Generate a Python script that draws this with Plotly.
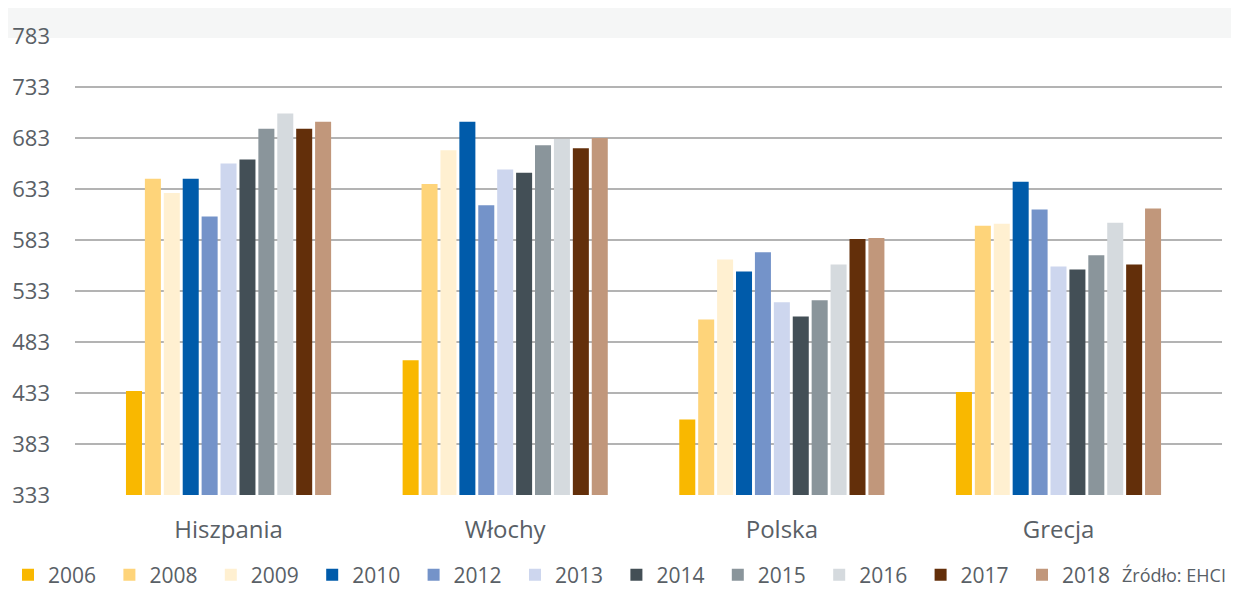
import plotly.graph_objects as go

categories = ["Hiszpania", "Włochy", "Polska", "Grecja"]
years = ["2006", "2008", "2009", "2010", "2012", "2013", "2014", "2015", "2016", "2017", "2018"]

v2006 = [435, 465, 407, 434]
v2008 = [643, 638, 505, 597]
v2009 = [629, 671, 564, 599]
v2010 = [643, 699, 552, 640]
v2012 = [606, 617, 571, 613]
v2013 = [658, 652, 522, 557]
v2014 = [662, 649, 508, 554]
v2015 = [692, 676, 524, 568]
v2016 = [707, 682, 559, 600]
v2017 = [692, 673, 584, 559]
v2018 = [699, 683, 585, 614]

series = [v2006, v2008, v2009, v2010, v2012, v2013, v2014, v2015, v2016, v2017, v2018]
colors = ["#F9B800", "#FED47A", "#FFF0D1", "#005BAA", "#7493C9", "#CDD6EE",
          "#434F56", "#8A959B", "#D5DADE", "#632F0A", "#C1977B"]

y_ticks = [333, 383, 433, 483, 533, 583, 633, 683, 733, 783]

FONT = "Open Sans"
TXT = "#596066"

fig = go.Figure()
for name, vals, col in zip(years, series, colors):
    fig.add_trace(go.Bar(name=name, x=categories, y=vals, marker=dict(color=col, line=dict(width=0))))

# page body has an 8px margin, so the figure is laid out 8px smaller
OFF = 8
W, H = 1239 - OFF, 589 - OFF
L, R, T, B = 75 - OFF, 17, 36 - OFF, 94
pw = W - L - R
ph = H - T - B

legend_y_px = 575 - OFF
note_y_px = 575 - OFF

fig.update_layout(
    width=W, height=H,
    margin=dict(l=L, r=R, t=T, b=B, pad=0, autoexpand=False),
    paper_bgcolor="white", plot_bgcolor="white",
    barmode="group", bargap=0.248, bargroupgap=0.153,
    font=dict(family=FONT, color=TXT, size=22),
    showlegend=True,
    legend=dict(
        orientation="h", xref="container", yref="container",
        x=0, xanchor="left", y=1 - legend_y_px / H, yanchor="middle",
        font=dict(family=FONT, size=21, color=TXT), itemwidth=30,
        entrywidth=56.4, entrywidthmode="pixels", bgcolor="rgba(0,0,0,0)",
        traceorder="normal",
    ),
    xaxis=dict(
        type="category", range=[-0.555, 3.591], showgrid=False, showline=False,
        ticks="", tickfont=dict(family=FONT, size=24, color=TXT), ticklabelstandoff=18,
        fixedrange=True, automargin=False,
    ),
    yaxis=dict(
        range=[333, 783], tickvals=y_ticks, ticktext=[str(t) for t in y_ticks],
        showgrid=True, gridcolor="#B3B3B3", gridwidth=1.5, zeroline=False, showline=False,
        ticks="", tickfont=dict(family=FONT, size=22, color=TXT), ticklabelstandoff=24,
        fixedrange=True, automargin=False,
    ),
    shapes=[dict(type="rect", xref="paper", yref="paper", x0=-L / pw, x1=1 + R / pw,
                 y0=1 - 2 / ph, y1=1 + T / ph, fillcolor="#F5F6F6", line=dict(width=0), layer="below")],
    annotations=[dict(text="Źródło: EHCI", xref="paper", yref="paper",
                      x=(1228 - OFF - L) / pw, xanchor="right",
                      y=-(note_y_px - (T + ph)) / ph, yanchor="middle",
                      showarrow=False, font=dict(family=FONT, size=18, color=TXT))],
)

fig.write_html("out.html")
